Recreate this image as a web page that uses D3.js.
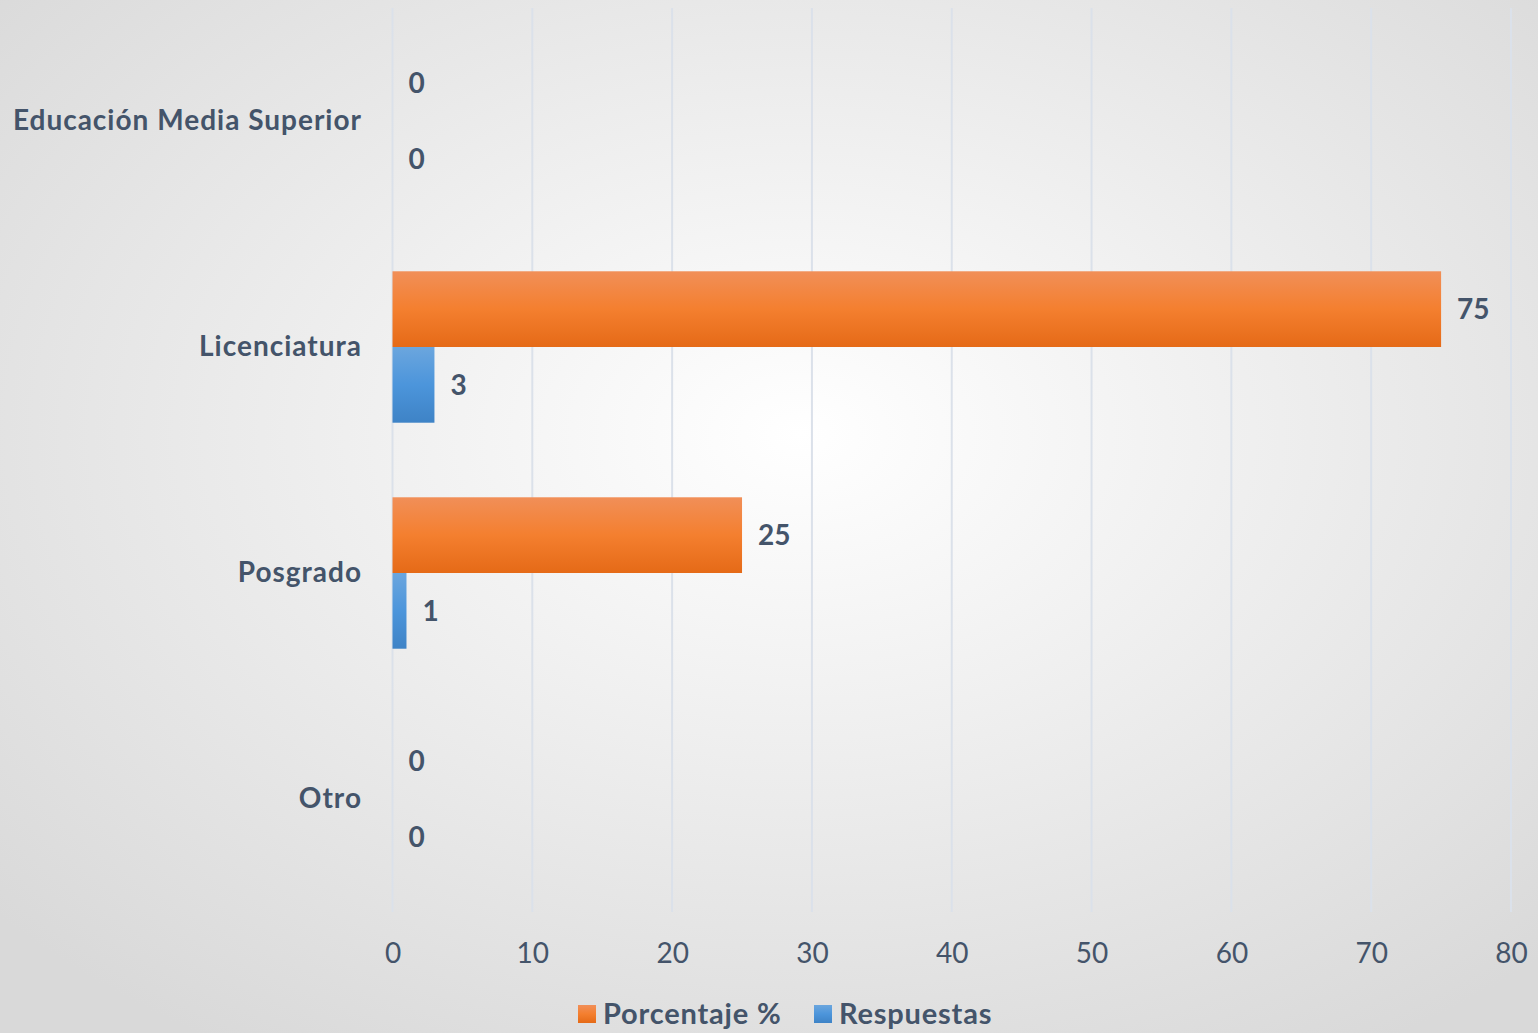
<!DOCTYPE html>
<html>
<head>
<meta charset="utf-8">
<script src="https://cdn.jsdelivr.net/npm/d3@7"></script>
<style>
  html, body { margin: 0; padding: 0; }
  body { width: 1538px; height: 1033px; overflow: hidden; }
</style>
</head>
<body>
<div id="chart"></div>
<script>
// Datos
const categorias = ["Educación Media Superior", "Licenciatura", "Posgrado", "Otro"];
const series = ["Porcentaje %", "Respuestas"];
const porcentaje = [0, 75, 25, 0];
const respuestas = [0, 3, 1, 0];
const ticksX = [0, 10, 20, 30, 40, 50, 60, 70, 80];

const width = 1538;
const height = 1033;
const margin = { top: 8, right: 27, bottom: 122, left: 392 };
const font = "Lato, 'Open Sans', sans-serif";
const textColor = "#44546a";

const svg = d3.select("#chart")
    .append("svg")
    .attr("width", width)
    .attr("height", height);

const defs = svg.append("defs");

// fondo con degradado radial
const bg = defs.append("radialGradient")
    .attr("id", "bg")
    .attr("cx", "52%").attr("cy", "42%").attr("r", "70%");
bg.append("stop").attr("offset", "0%").attr("stop-color", "#ffffff");
bg.append("stop").attr("offset", "100%").attr("stop-color", "#d9d9d9");

const gradOrange = defs.append("linearGradient")
    .attr("id", "gOrange").attr("x1", 0).attr("y1", 0).attr("x2", 0).attr("y2", 1);
gradOrange.append("stop").attr("offset", "0%").attr("stop-color", "#f18f58");
gradOrange.append("stop").attr("offset", "50%").attr("stop-color", "#f47f2f");
gradOrange.append("stop").attr("offset", "100%").attr("stop-color", "#e56a17");

const gradBlue = defs.append("linearGradient")
    .attr("id", "gBlue").attr("x1", 0).attr("y1", 0).attr("x2", 0).attr("y2", 1);
gradBlue.append("stop").attr("offset", "0%").attr("stop-color", "#6ba6de");
gradBlue.append("stop").attr("offset", "50%").attr("stop-color", "#4c95db");
gradBlue.append("stop").attr("offset", "100%").attr("stop-color", "#3e83c6");

const colores = ["url(#gOrange)", "url(#gBlue)"];

svg.append("rect")
    .attr("width", width)
    .attr("height", height)
    .attr("fill", "url(#bg)");

// Escalas
const x = d3.scaleLinear()
    .domain([0, 80])
    .range([margin.left + 0.5, width - margin.right]);

const y = d3.scaleBand()
    .domain(categorias)
    .range([margin.top, height - margin.bottom + 1])
    .paddingInner(0.33)
    .paddingOuter(0.165);

const ySub = d3.scaleBand()
    .domain(series)
    .range([0, y.bandwidth()]);

// cuadrícula
svg.append("g")
    .selectAll("line")
    .data(ticksX)
    .join("line")
    .attr("x1", d => x(d)).attr("x2", d => x(d))
    .attr("y1", margin.top).attr("y2", height - margin.bottom + 1)
    .attr("stroke", "#dbe1ea")
    .attr("stroke-width", 2);

// eje X
const xAxis = svg.append("g")
    .attr("transform", `translate(0,${height - margin.bottom + 1})`)
    .call(d3.axisBottom(x).tickValues(ticksX).tickSize(0).tickPadding(31));
xAxis.select(".domain").remove();
xAxis.selectAll("text")
    .attr("font-family", font)
    .attr("font-size", 28)
    .attr("fill", textColor);

// eje Y
const yAxis = svg.append("g")
    .attr("transform", `translate(${margin.left},0)`)
    .call(d3.axisLeft(y).tickSize(0).tickPadding(30));
yAxis.select(".domain").remove();
yAxis.selectAll("text")
    .attr("font-family", font)
    .attr("font-size", 28)
    .attr("font-weight", "bold")
    .attr("letter-spacing", "1px")
    .attr("fill", textColor);

// barras
const filas = categorias.map((c, i) => ({
    categoria: c,
    valores: [
        { serie: series[0], valor: porcentaje[i] },
        { serie: series[1], valor: respuestas[i] }
    ]
}));

const grupos = svg.append("g")
    .selectAll("g")
    .data(filas)
    .join("g")
    .attr("transform", d => `translate(0,${y(d.categoria)})`);

grupos.selectAll("rect")
    .data(d => d.valores)
    .join("rect")
    .attr("x", x(0))
    .attr("y", d => ySub(d.serie))
    .attr("width", d => x(d.valor) - x(0))
    .attr("height", ySub.bandwidth())
    .attr("fill", (d, i) => colores[i]);

grupos.selectAll("text")
    .data(d => d.valores)
    .join("text")
    .attr("x", d => x(d.valor) + 16)
    .attr("y", d => ySub(d.serie) + ySub.bandwidth() / 2)
    .attr("dy", "0.35em")
    .attr("font-family", font)
    .attr("font-size", 28)
    .attr("font-weight", "bold")
    .attr("fill", textColor)
    .text(d => d.valor);

// leyenda
const leyenda = svg.append("g")
    .attr("transform", `translate(578,1014)`);
const itemX = [0, 236];
series.forEach((s, i) => {
    const g = leyenda.append("g").attr("transform", `translate(${itemX[i]},0)`);
    g.append("rect")
        .attr("x", 0).attr("y", -9)
        .attr("width", 18).attr("height", 18)
        .attr("fill", colores[i]);
    g.append("text")
        .attr("x", 25)
        .attr("dy", "0.35em")
        .attr("font-family", font)
        .attr("font-size", 29)
        .attr("font-weight", "bold")
        .attr("letter-spacing", "0.8px")
        .attr("fill", textColor)
        .text(s);
});
</script>
</body>
</html>
